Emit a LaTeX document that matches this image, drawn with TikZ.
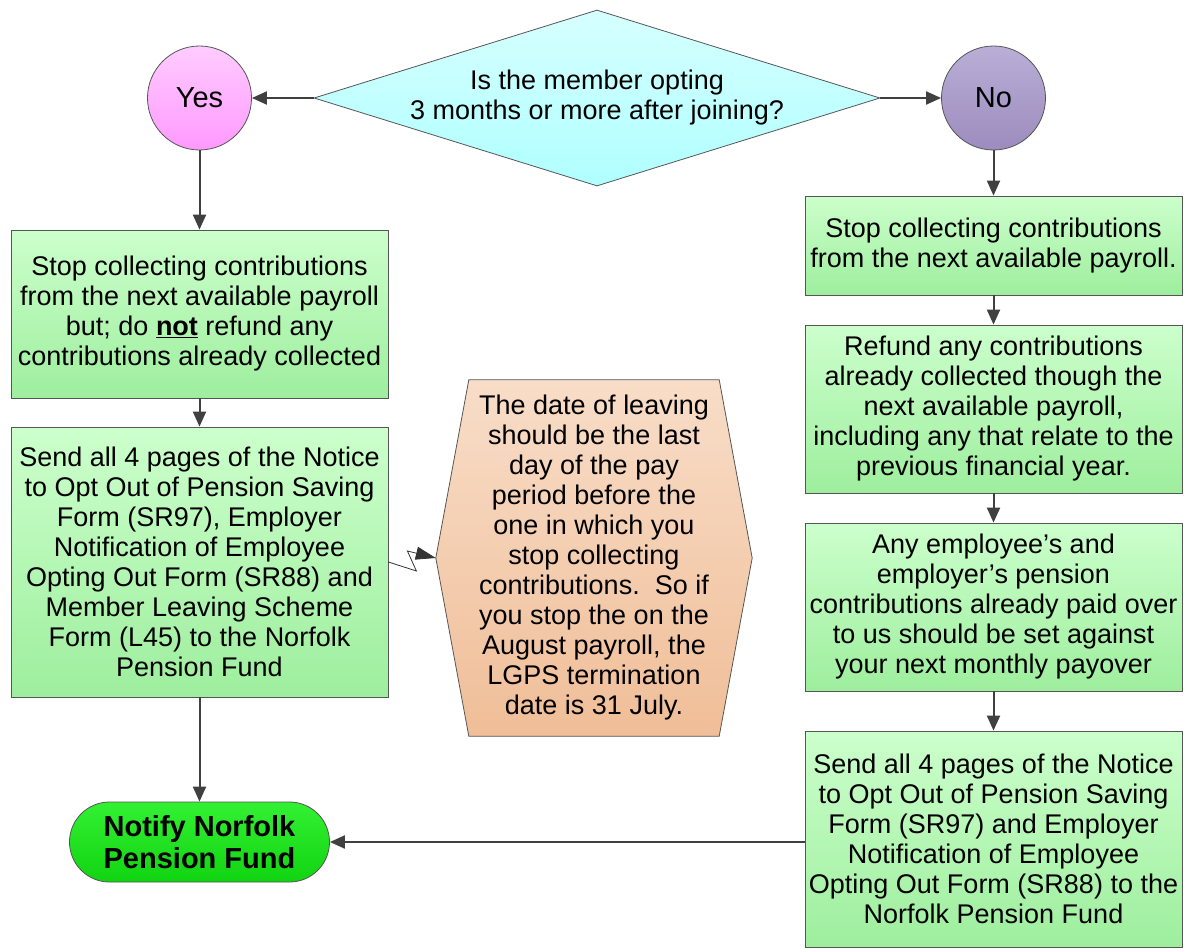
\documentclass[tikz,border=0pt]{standalone}
\usepackage{fontspec}
\setmainfont{Liberation Sans}
\usetikzlibrary{shapes.geometric,shapes.misc,arrows.meta,shadings,backgrounds,calc}
\definecolor{gtop}{HTML}{CCFFCC}
\definecolor{gbot}{HTML}{9EEE9E}
\definecolor{ytop}{HTML}{FFCCFF}
\definecolor{ybot}{HTML}{FF99FF}
\definecolor{ntop}{HTML}{BAAED6}
\definecolor{nbot}{HTML}{9C8CBE}
\definecolor{dtop}{HTML}{D6FFFF}
\definecolor{dbot}{HTML}{B0FFFF}
\definecolor{htop}{HTML}{F8DDC8}
\definecolor{hbot}{HTML}{F0BE98}
\definecolor{ftop}{HTML}{33F033}
\definecolor{fbot}{HTML}{11D411}
\definecolor{edge}{HTML}{555555}
\definecolor{arrowc}{HTML}{404040}
\begin{document}
\begin{tikzpicture}[x=1pt,y=-1pt,
  every node/.style={font=\fontsize{27}{30}\selectfont, align=center, inner sep=0pt, text=black},
  box/.style={draw=edge, line width=0.8pt, top color=gtop, bottom color=gbot, minimum width=377pt},
  arr/.style={draw=arrowc, line width=2pt, -{Triangle[length=15pt,width=13pt]}},
  circ/.style={circle, draw=edge, line width=0.8pt, minimum size=104pt, font=\fontsize{29}{32}\selectfont}
]
\useasboundingbox (0,0) rectangle (1185,947);

\node[diamond, aspect=3.2, draw=edge, line width=0.8pt, top color=dtop, bottom color=dbot,
      minimum width=566pt, minimum height=176pt] (dia) at (597,98)
      {Is the member opting\\3 months or more after joining?};
\node[circ, top color=ytop, bottom color=ybot] (yes) at (199.5,98) {Yes};
\node[circ, top color=ntop, bottom color=nbot] (no) at (993.5,98) {No};

\node[box, minimum height=168pt] (b1) at (199.5,314)
  {Stop collecting contributions\\from the next available payroll\\but; do \underline{\textbf{not}} refund any\\contributions already collected};
\node[box, minimum height=270pt] (b2) at (199.5,562)
  {Send all 4 pages of the Notice\\to Opt Out of Pension Saving\\Form (SR97), Employer\\Notification of Employee\\Opting Out Form (SR88) and\\Member Leaving Scheme\\Form (L45) to the Norfolk\\Pension Fund};
\node[rounded rectangle, draw=edge, line width=0.8pt, top color=ftop, bottom color=fbot,
      minimum width=260pt, minimum height=80pt, font=\fontsize{29}{32}\selectfont\bfseries] (fund) at (199.5,842)
  {Notify Norfolk\\Pension Fund};

\node[minimum width=316pt, minimum height=356pt] (hex) at (594,558)
  {The date of leaving\\should be the last\\day of the pay\\period before the\\one in which you\\stop collecting\\contributions.\ \ So if\\you stop the on the\\August payroll, the\\LGPS termination\\date is 31 July.};
\begin{scope}[on background layer]
\shade[draw=edge, line width=0.8pt, top color=htop, bottom color=hbot]
  ($(hex.north west)+(33,0)$) -- ($(hex.north east)+(-33,0)$) -- (hex.east)
  -- ($(hex.south east)+(-33,0)$) -- ($(hex.south west)+(33,0)$) -- (hex.west) -- cycle;
\end{scope}

\node[box, minimum height=99pt] (r1) at (993.5,245.5)
  {Stop collecting contributions\\from the next available payroll.};
\node[box, minimum height=168pt] (r2) at (993.5,409)
  {Refund any contributions\\already collected though the\\next available payroll,\\including any that relate to the\\previous financial year.};
\node[box, minimum height=168pt] (r3) at (993.5,607)
  {Any employee's and\\employer's pension\\contributions already paid over\\to us should be set against\\your next monthly payover};
\node[box, minimum height=216pt] (r4) at (993.5,839)
  {Send all 4 pages of the Notice\\to Opt Out of Pension Saving\\Form (SR97) and Employer\\Notification of Employee\\Opting Out Form (SR88) to the\\Norfolk Pension Fund};

\draw[arr] (dia.west) -- (yes.east);
\draw[arr] (dia.east) -- (no.west);
\draw[arr] (yes.south) -- (b1.north);
\draw[arr] (b1.south) -- (b2.north);
\draw[arr] (b2.south) -- (fund.north);
\draw[arr] (no.south) -- (r1.north);
\draw[arr] (r1.south) -- (r2.north);
\draw[arr] (r2.south) -- (r3.north);
\draw[arr] (r3.south) -- (r4.north);
\draw[arr] (r4.west |- fund.east) -- (fund.east);
\draw[draw=black!80, line width=0.8pt, -{Triangle[length=20pt,width=13pt]}]
  (b2.east) -- ++(28,9) -- ++(-9,-20) -- (hex.west);
\end{tikzpicture}
\end{document}
